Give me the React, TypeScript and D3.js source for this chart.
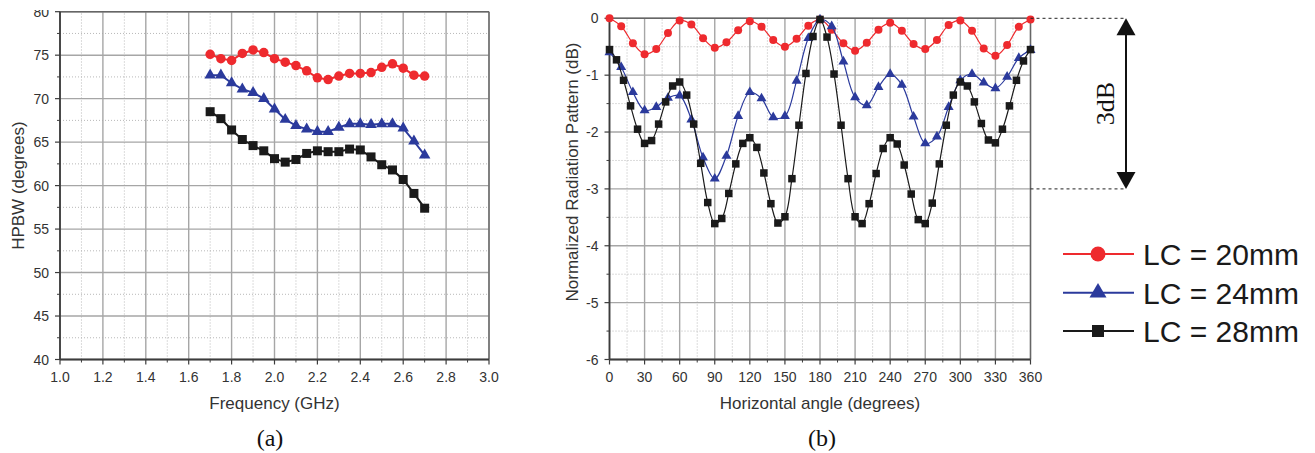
import React from "react";
import * as d3 from "d3";

// ---------- Data: panel (a) ----------
const FREQ = [1.7, 1.75, 1.8, 1.85, 1.9, 1.95, 2.0, 2.05, 2.1, 2.15, 2.2, 2.25, 2.3, 2.35, 2.4, 2.45, 2.5, 2.55, 2.6, 2.65, 2.7];
const HPBW_20 = [75.1, 74.6, 74.4, 75.2, 75.6, 75.3, 74.6, 74.2, 73.8, 73.2, 72.4, 72.2, 72.6, 72.9, 72.9, 73.0, 73.6, 74.0, 73.5, 72.7, 72.6];
const HPBW_24 = [72.7, 72.7, 71.8, 71.1, 70.7, 70.0, 68.8, 67.6, 66.9, 66.5, 66.2, 66.2, 66.7, 67.1, 67.1, 67.0, 67.1, 67.1, 66.6, 65.1, 63.5];
const HPBW_28 = [68.5, 67.7, 66.4, 65.3, 64.6, 64.0, 63.1, 62.7, 63.0, 63.7, 64.0, 63.9, 63.9, 64.2, 64.1, 63.3, 62.4, 61.8, 60.7, 59.1, 57.4];
const FREQ_TICKS = [1.0, 1.2, 1.4, 1.6, 1.8, 2.0, 2.2, 2.4, 2.6, 2.8, 3.0];
const HPBW_TICKS = [40, 45, 50, 55, 60, 65, 70, 75, 80];

// ---------- Data: panel (b) ----------
const ANGLE_10 = [0, 10, 20, 30, 40, 50, 60, 70, 80, 90, 100, 110, 120, 130, 140, 150, 160, 170, 180, 190, 200, 210, 220, 230, 240, 250, 260, 270, 280, 290, 300, 310, 320, 330, 340, 350, 360];
const ANGLE_6 = [0, 6, 12, 18, 24, 30, 36, 42, 48, 54, 60, 66, 72, 78, 84, 90, 96, 102, 108, 114, 120, 126, 132, 138, 144, 150, 156, 162, 168, 174, 180, 186, 192, 198, 204, 210, 216, 222, 228, 234, 240, 246, 252, 258, 264, 270, 276, 282, 288, 294, 300, 306, 312, 318, 324, 330, 336, 342, 348, 354, 360];
const PAT_20 = [0, -0.14, -0.44, -0.63, -0.54, -0.26, -0.04, -0.11, -0.35, -0.52, -0.42, -0.21, -0.05, -0.15, -0.38, -0.5, -0.36, -0.13, -0.02, -0.2, -0.44, -0.57, -0.43, -0.2, -0.08, -0.22, -0.45, -0.54, -0.38, -0.12, -0.04, -0.22, -0.53, -0.66, -0.47, -0.15, -0.02];
const PAT_24 = [-0.6, -0.86, -1.3, -1.62, -1.56, -1.4, -1.36, -1.78, -2.45, -2.82, -2.42, -1.72, -1.3, -1.41, -1.74, -1.72, -1.1, -0.35, -0.02, -0.14, -0.76, -1.39, -1.53, -1.21, -0.98, -1.17, -1.73, -2.2, -2.08, -1.56, -1.09, -0.98, -1.13, -1.23, -1.03, -0.7, -0.56];
const PAT_28 = [-0.55, -0.73, -1.09, -1.54, -1.95, -2.2, -2.15, -1.86, -1.47, -1.19, -1.12, -1.35, -1.86, -2.55, -3.24, -3.61, -3.52, -3.08, -2.56, -2.2, -2.1, -2.27, -2.72, -3.26, -3.6, -3.49, -2.82, -1.88, -0.97, -0.32, -0.02, -0.33, -0.98, -1.88, -2.82, -3.49, -3.61, -3.26, -2.73, -2.29, -2.1, -2.21, -2.58, -3.09, -3.54, -3.61, -3.25, -2.56, -1.88, -1.35, -1.12, -1.19, -1.47, -1.85, -2.14, -2.19, -1.95, -1.54, -1.09, -0.75, -0.55];
const ANGLE_TICKS = [0, 30, 60, 90, 120, 150, 180, 210, 240, 270, 300, 330, 360];
const DB_TICKS = [-6, -5, -4, -3, -2, -1, 0];

const LEGEND = ["LC = 20mm", "LC = 24mm", "LC = 28mm"];
const COLORS = ["#ee2a2e", "#2b3a9c", "#1a1a1a"];
const SHAPES = ["circle", "triangle", "square"];

const SANS = "'Liberation Sans', Arial, sans-serif";
const SERIF = "'Liberation Serif', 'Times New Roman', serif";

type Scale = d3.ScaleLinear<number, number>;

function Marker({ shape, x, y, size, color }: { shape: string; x: number; y: number; size: number; color: string }) {
  if (shape === "circle") return <circle cx={x} cy={y} r={size / 2} fill={color} />;
  if (shape === "square") return <rect x={x - size / 2} y={y - size / 2} width={size} height={size} fill={color} />;
  const area = (size * size * Math.sqrt(3)) / 4;
  const p = d3.symbol().type(d3.symbolTriangle).size(area)() || "";
  return <path d={p} transform={`translate(${x},${y})`} fill={color} />;
}

function Grid({ x, y, xt, yt }: { x: Scale; y: Scale; xt: number[]; yt: number[] }) {
  const [x0, x1] = x.range();
  const [y0, y1] = y.range();
  const xMinor = xt.slice(1).map((v, i) => (v + xt[i]) / 2);
  const yMinor = yt.slice(1).map((v, i) => (v + yt[i]) / 2);
  return (
    <g>
      {xMinor.map((v, i) => (
        <line key={"xm" + i} x1={x(v)} x2={x(v)} y1={y0} y2={y1} stroke="#b8b8b8" strokeWidth={1} strokeDasharray="1,2" />
      ))}
      {yMinor.map((v, i) => (
        <line key={"ym" + i} x1={x0} x2={x1} y1={y(v)} y2={y(v)} stroke="#b8b8b8" strokeWidth={1} strokeDasharray="1,2" />
      ))}
      {xt.map((v, i) => (
        <line key={"xg" + i} x1={x(v)} x2={x(v)} y1={y0} y2={y1} stroke="#a6a6a6" strokeWidth={1.4} />
      ))}
      {yt.map((v, i) => (
        <line key={"yg" + i} x1={x0} x2={x1} y1={y(v)} y2={y(v)} stroke="#a6a6a6" strokeWidth={1.4} />
      ))}
    </g>
  );
}

function Axes({ x, y, xt, yt, fmtX, fmtY }: { x: Scale; y: Scale; xt: number[]; yt: number[]; fmtX: (v: number) => string; fmtY: (v: number) => string }) {
  const [x0, x1] = x.range();
  const [y0, y1] = y.range();
  const xMinor = xt.slice(1).map((v, i) => (v + xt[i]) / 2);
  const yMinor = yt.slice(1).map((v, i) => (v + yt[i]) / 2);
  return (
    <g>
      <line x1={x0} x2={x1} y1={y1} y2={y1} stroke="#666" strokeWidth={1.4} />
      <line x1={x1} x2={x1} y1={y0} y2={y1} stroke="#666" strokeWidth={1.4} />
      <line x1={x0} x2={x1} y1={y0} y2={y0} stroke="#3c3c3c" strokeWidth={1.8} />
      <line x1={x0} x2={x0} y1={y0} y2={y1} stroke="#3c3c3c" strokeWidth={1.8} />
      {xt.map((v, i) => (
        <g key={"xt" + i}>
          <line x1={x(v)} x2={x(v)} y1={y0} y2={y0 + 5} stroke="#3c3c3c" strokeWidth={1.2} />
          <text x={x(v)} y={y0 + 22} textAnchor="middle" fontSize={14} fill="#333" fontFamily={SANS}>{fmtX(v)}</text>
        </g>
      ))}
      {xMinor.map((v, i) => (
        <line key={"xmt" + i} x1={x(v)} x2={x(v)} y1={y0} y2={y0 + 3} stroke="#3c3c3c" strokeWidth={1} />
      ))}
      {yt.map((v, i) => (
        <g key={"yt" + i}>
          <line x1={x0 - 5} x2={x0} y1={y(v)} y2={y(v)} stroke="#3c3c3c" strokeWidth={1.2} />
          <text x={x0 - 11} y={y(v) + 5} textAnchor="end" fontSize={14} fill="#333" fontFamily={SANS}>{fmtY(v)}</text>
        </g>
      ))}
      {yMinor.map((v, i) => (
        <line key={"ymt" + i} x1={x0 - 3} x2={x0} y1={y(v)} y2={y(v)} stroke="#3c3c3c" strokeWidth={1} />
      ))}
    </g>
  );
}

function Series({ xs, ys, x, y, color, shape, size, width, curve }: any) {
  const line = d3
    .line<number>()
    .x((_, i) => x(xs[i]))
    .y((d) => y(d))
    .curve(curve);
  return (
    <g>
      <path d={line(ys) || ""} fill="none" stroke={color} strokeWidth={width} />
      {ys.map((v: number, i: number) => (
        <Marker key={i} shape={shape} x={x(xs[i])} y={y(v)} size={size} color={color} />
      ))}
    </g>
  );
}

export default function App() {
  const xA = d3.scaleLinear().domain([1, 3]).range([60, 489]);
  const yA = d3.scaleLinear().domain([40, 80]).range([359.5, 11.7]);
  const xB = d3.scaleLinear().domain([0, 360]).range([609.5, 1030.5]);
  const yB = d3.scaleLinear().domain([-6, 0]).range([359.5, 18.3]);

  const hpbw = [HPBW_20, HPBW_24, HPBW_28];
  const pats = [PAT_20, PAT_24, PAT_28];
  const angs = [ANGLE_10, ANGLE_10, ANGLE_6];
  const sizeA = [9.5, 11.5, 9];
  const sizeB = [8, 10, 7.5];
  const sizeL = [15, 17, 12];

  const arrowX = 1126;
  const top = yB(0);
  const bot = yB(-3);
  const legendY = [254, 292.7, 331];

  return (
    <svg width={1315} height={453} style={{ position: "absolute", left: 0, top: 0, background: "#fff" }}>
      <defs>
        <clipPath id="clipTop">
          <rect x={0} y={10} width={1315} height={443} />
        </clipPath>
      </defs>
      <rect x={0} y={0} width={1315} height={453} fill="#fff" />

      {/* Panel (a) */}
      <Grid x={xA} y={yA} xt={FREQ_TICKS} yt={HPBW_TICKS} />
      <g clipPath="url(#clipTop)">
        <Axes x={xA} y={yA} xt={FREQ_TICKS} yt={HPBW_TICKS} fmtX={(v) => v.toFixed(1)} fmtY={(v) => String(v)} />
      </g>
      {hpbw.map((s, k) => (
        <Series key={k} xs={FREQ} ys={s} x={xA} y={yA} color={COLORS[k]} shape={SHAPES[k]} size={sizeA[k]} width={2} curve={d3.curveLinear} />
      ))}
      <text x={(xA.range()[0] + xA.range()[1]) / 2 + 0} y={409} textAnchor="middle" fontSize={17} fill="#333" fontFamily={SANS}>Frequency (GHz)</text>
      <text transform={`translate(24,${(yA.range()[0] + yA.range()[1]) / 2}) rotate(-90)`} textAnchor="middle" fontSize={17} fill="#333" fontFamily={SANS}>HPBW (degrees)</text>
      <text x={270} y={446} textAnchor="middle" fontSize={24} fill="#111" fontFamily={SERIF}>(a)</text>

      {/* Panel (b) */}
      <Grid x={xB} y={yB} xt={ANGLE_TICKS} yt={DB_TICKS} />
      <Axes x={xB} y={yB} xt={ANGLE_TICKS} yt={DB_TICKS} fmtX={(v) => String(v)} fmtY={(v) => String(v)} />
      {pats.map((s, k) => (
        <Series key={k} xs={angs[k]} ys={s} x={xB} y={yB} color={COLORS[k]} shape={SHAPES[k]} size={sizeB[k]} width={1.2} curve={d3.curveCatmullRom.alpha(0.5)} />
      ))}
      <text x={(xB.range()[0] + xB.range()[1]) / 2} y={409} textAnchor="middle" fontSize={17} fill="#333" fontFamily={SANS}>Horizontal angle (degrees)</text>
      <text transform={`translate(578,172) rotate(-90)`} textAnchor="middle" fontSize={17} fill="#333" fontFamily={SANS}>Normalized Radiation Pattern (dB)</text>
      <text x={822} y={446} textAnchor="middle" fontSize={24} fill="#111" fontFamily={SERIF}>(b)</text>

      {/* 3dB annotation */}
      <line x1={xB(360)} x2={arrowX} y1={top} y2={top} stroke="#222" strokeWidth={1} strokeDasharray="3,3" />
      <line x1={xB(360)} x2={arrowX} y1={bot} y2={bot} stroke="#222" strokeWidth={1} strokeDasharray="3,3" />
      <line x1={arrowX} x2={arrowX} y1={top + 10} y2={bot - 10} stroke="#111" strokeWidth={2} />
      <path d={`M${arrowX},${top} L${arrowX - 9.5},${top + 17} L${arrowX + 9.5},${top + 17} Z`} fill="#111" />
      <path d={`M${arrowX},${bot} L${arrowX - 9.5},${bot - 17} L${arrowX + 9.5},${bot - 17} Z`} fill="#111" />
      <text transform={`translate(1114,${(top + bot) / 2}) rotate(-90)`} textAnchor="middle" fontSize={26} fill="#111" fontFamily={SERIF}>3dB</text>

      {/* Legend */}
      {LEGEND.map((t, k) => (
        <g key={t}>
          <line x1={1063} x2={1134} y1={legendY[k]} y2={legendY[k]} stroke={COLORS[k]} strokeWidth={2} />
          <Marker shape={SHAPES[k]} x={1098} y={legendY[k]} size={sizeL[k]} color={COLORS[k]} />
          <text x={1143} y={legendY[k] + 11} fontSize={30} fill="#1a1a1a" fontFamily={SANS}>{t}</text>
        </g>
      ))}
    </svg>
  );
}
